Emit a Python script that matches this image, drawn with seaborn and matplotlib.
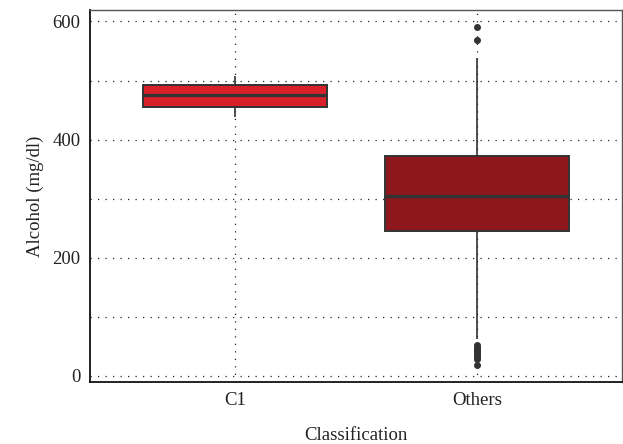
import numpy as np
import pandas as pd
import matplotlib.pyplot as plt
import seaborn as sns
from matplotlib.ticker import MultipleLocator

# Valores (mg/dl)
categories = ['C1', 'Others']
colors = ['#d8202a', '#8e171c']

# estatísticas do boxplot: whisker inferior, Q1, mediana, Q3, whisker superior
c1_stats = [439, 456, 475, 493, 508]
others_stats = [62, 245, 305, 373, 538]

c1_outliers = []
others_outliers = [19, 28, 31, 34, 37, 40, 43, 46, 49, 52, 569, 590]


def build_values(stats, outliers, reps=40):
    # repete os quartis para que o boxplot reproduza as estatísticas lidas
    lo, q1, med, q3, hi = stats
    vals = [lo, hi] + [q1] * reps + [med] * reps + [q3] * reps + list(outliers)
    return vals


rows = []
for cat, stats, outs in zip(categories, [c1_stats, others_stats], [c1_outliers, others_outliers]):
    for v in build_values(stats, outs):
        rows.append({'Classification': cat, 'Alcohol': v})
df = pd.DataFrame(rows)

sns.set_style('white')
plt.rcParams['font.family'] = ['Liberation Serif', 'DejaVu Serif']

fig = plt.figure(figsize=(6.23, 4.44), dpi=100)
ax = fig.add_axes([0.145, 0.14, 0.853, 0.837])

sns.boxplot(data=df, x='Classification', y='Alcohol', hue='Classification',
            palette=colors, saturation=1, width=0.76, linewidth=1.4,
            linecolor='#333333', whis=1.5, fliersize=4, showcaps=False,
            flierprops=dict(marker='o', markerfacecolor='#333333',
                            markeredgecolor='#333333'),
            whiskerprops=dict(linewidth=1.2),
            medianprops=dict(color='#333333', linewidth=2.4),
            legend=False, ax=ax, zorder=3)

ax.set_xlim(-0.6, 1.6)
ax.set_ylim(-10, 619)
ax.yaxis.set_major_locator(MultipleLocator(200))
ax.yaxis.set_minor_locator(MultipleLocator(100))

ax.grid(True, which='both', axis='y', color='#222222', linestyle=(0, (1, 5)), linewidth=0.9)
ax.grid(True, which='major', axis='x', color='#222222', linestyle=(0, (1, 5)), linewidth=0.9)
ax.set_axisbelow(True)

ax.tick_params(axis='both', which='major', direction='out', length=4, width=1,
               labelsize=13.5, color='#222222', labelcolor='#222222', pad=3)
ax.tick_params(axis='y', which='minor', length=0)

for side in ['left', 'bottom']:
    ax.spines[side].set_color('#111111')
    ax.spines[side].set_linewidth(1.3)
for side in ['top', 'right']:
    ax.spines[side].set_color('#555555')
    ax.spines[side].set_linewidth(1.0)

ax.set_xlabel('Classification', fontsize=13.5, color='#222222', labelpad=13)
ax.set_ylabel('Alcohol (mg/dl)', fontsize=13.5, color='#222222', labelpad=6)

fig.savefig('out.png', dpi=100)
